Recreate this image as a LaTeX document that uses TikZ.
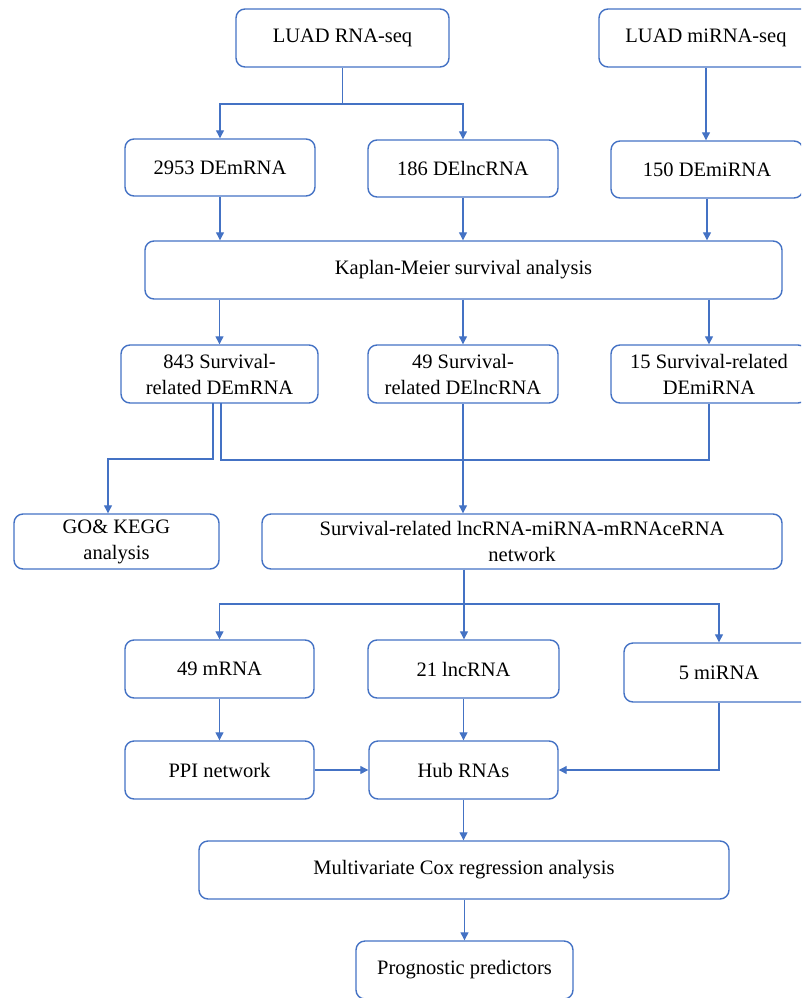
\documentclass[tikz,border=0pt]{standalone}
\usepackage{fontspec}
\setmainfont{Liberation Serif}
\usetikzlibrary{arrows.meta}
\definecolor{lineblue}{HTML}{4472C4}
\begin{document}
\begin{tikzpicture}[x=1pt,y=-1pt,
  box/.style={draw=lineblue,line width=1.4pt,rounded corners=9pt,align=center,
    font=\fontsize{20.5}{26}\selectfont,inner sep=0pt},
  arr/.style={draw=lineblue,line width=1.2pt,-{Triangle[length=8pt,width=8pt]}},
  ln/.style={draw=lineblue,line width=1.2pt}]
\useasboundingbox (0,0) rectangle (801,998);
\clip (0,0) rectangle (801,998);
% row 1
\node[box,minimum width=213pt,minimum height=58pt] (rnaseq) at (342.5,38) {LUAD RNA-seq};
\node[box,minimum width=214pt,minimum height=58pt] (mirnaseq) at (706,38) {LUAD miRNA-seq};
% row 2
\node[box,minimum width=190pt,minimum height=57pt] (demrna) at (220,167.5) {2953 DEmRNA};
\node[box,minimum width=190pt,minimum height=57pt] (delnc) at (463,168.5) {186 DElncRNA};
\node[box,minimum width=192pt,minimum height=57pt] (demi) at (707,169.5) {150 DEmiRNA};
% KM
\node[box,minimum width=637pt,minimum height=58pt] (km) at (463.5,270) {Kaplan-Meier survival analysis};
% row 4
\node[box,minimum width=197pt,minimum height=58pt] (s843) at (219.5,374) {843 Survival-\\related DEmRNA};
\node[box,minimum width=190pt,minimum height=58pt] (s49) at (463,374) {49 Survival-\\related DElncRNA};
\node[box,minimum width=196pt,minimum height=58pt] (s15) at (709,374) {15 Survival-related\\DEmiRNA};
% row 5
\node[box,minimum width=205pt,minimum height=55pt] (go) at (116.5,541.5) {GO\& KEGG\\analysis};
\node[box,minimum width=520pt,minimum height=55pt] (net) at (522,541.5) {Survival-related lncRNA-miRNA-mRNAceRNA\\network};
% row 6
\node[box,minimum width=189pt,minimum height=58pt] (m49) at (219.5,669) {49 mRNA};
\node[box,minimum width=191pt,minimum height=58pt] (l21) at (463.5,669) {21 lncRNA};
\node[box,minimum width=190pt,minimum height=59pt] (mi5) at (719,672.5) {5 miRNA};
% row 7
\node[box,minimum width=189pt,minimum height=58pt] (ppi) at (219.5,770) {PPI network};
\node[box,minimum width=189pt,minimum height=58pt] (hub) at (463.5,770) {Hub RNAs};
% row 8
\node[box,minimum width=530pt,minimum height=58pt] (cox) at (464,870) {Multivariate Cox regression analysis};
\node[box,minimum width=217pt,minimum height=58pt] (prog) at (464.5,970) {Prognostic predictors};
% connectors
\coordinate (j1) at (342.5,104);
\draw[ln] (rnaseq.south) -- (j1);
\draw[arr] (j1) -| (demrna.north);
\draw[arr] (j1) -| (delnc.north);
\draw[arr] (mirnaseq.south) -- (mirnaseq.south |- demi.north);
\draw[arr] (demrna.south) -- (demrna.south |- km.north);
\draw[arr] (delnc.south) -- (delnc.south |- km.north);
\draw[arr] (demi.south) -- (demi.south |- km.north);
\draw[arr] (km.south -| s843.north) -- (s843.north);
\draw[arr] (km.south -| s49.north) -- (s49.north);
\draw[arr] (km.south -| s15.north) -- (s15.north);
% from 843 box
\coordinate (a1) at (213,403);
\coordinate (a2) at (108,459);
\draw[arr] (a1) |- (a2) -- (a2 |- go.north);
\coordinate (b1) at (221,403);
\coordinate (b2) at (709,460);
\draw[ln] (b1) |- (b2) -- (b2 |- s15.south);
\draw[arr] (s49.south) -- (s49.south |- net.north);
% from network
\coordinate (j2) at (464,604);
\draw[ln] (net.south -| j2) -- (j2);
\draw[arr] (j2) -| (m49.north);
\draw[arr] (j2) -- (j2 |- l21.north);
\draw[arr] (j2) -| (mi5.north);
\draw[arr] (m49.south) -- (ppi.north);
\draw[arr] (l21.south) -- (hub.north);
\draw[arr] (ppi.east) -- (hub.west);
\draw[arr] (mi5.south) |- (hub.east);
\draw[arr] (hub.south) -- (hub.south |- cox.north);
\draw[arr] (cox.south -| prog.north) -- (prog.north);
\end{tikzpicture}
\end{document}
